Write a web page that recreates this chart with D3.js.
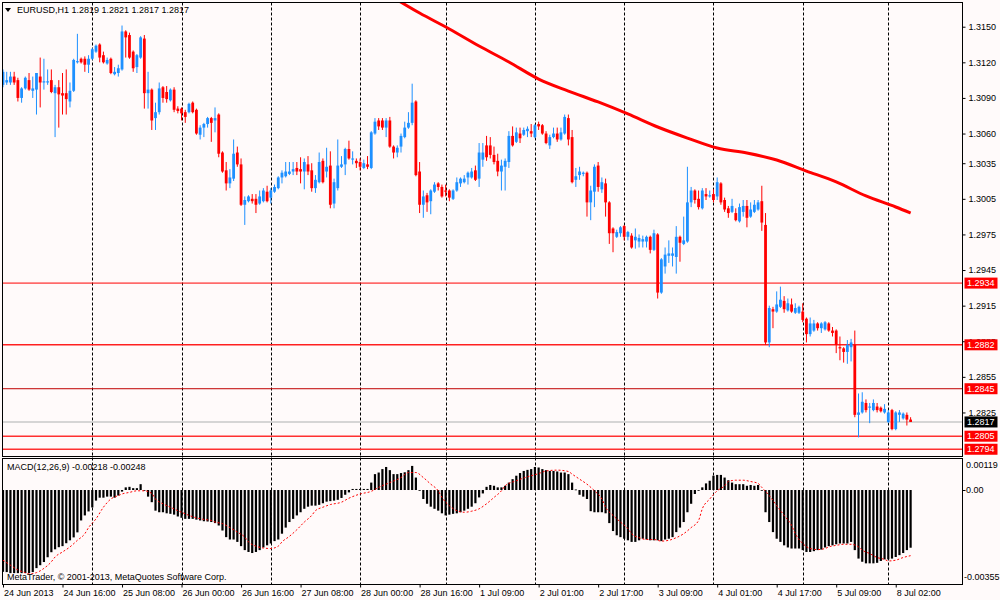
<!DOCTYPE html>
<html><head><meta charset="utf-8">
<script src="https://cdn.jsdelivr.net/npm/d3@7/dist/d3.min.js"></script>
<style>
html,body{margin:0;padding:0;background:#fffafa;overflow:hidden;}
svg{display:block;}
text{font-family:"Liberation Sans",Arial,sans-serif;font-size:9px;fill:#000;}
</style></head><body>
<svg id="c" width="1000" height="600"></svg>
<script>
// ---------- DATA ----------
const symbolTitle = "EURUSD,H1  1.2819 1.2821 1.2817 1.2817";
const macdTitle = "MACD(12,26,9) -0.00218 -0.00248";
const copyright = "MetaTrader, \u00a9 2001-2013, MetaQuotes Software Corp.";

const opens = [1.3101,1.3103,1.3103,1.3108,1.3105,1.3090,1.3098,1.3105,1.3096,1.3097,
1.3108,1.3103,1.3103,1.3105,1.3094,1.3099,1.3094,1.3094,1.3087,1.3096,
1.3120,1.3123,1.3123,1.3118,1.3123,1.3129,1.3135,1.3126,1.3119,1.3123,
1.3110,1.3111,1.3114,1.3146,1.3143,1.3129,1.3116,1.3124,1.3140,1.3094,
1.3097,1.3073,1.3078,1.3099,1.3095,1.3088,1.3097,1.3081,1.3081,1.3078,
1.3078,1.3086,1.3080,1.3059,1.3065,1.3068,1.3073,1.3071,1.3076,1.3044,
1.3029,1.3018,1.3022,1.3044,1.3034,1.3000,1.3003,1.3005,1.3005,1.3001,
1.3003,1.3011,1.3006,1.3011,1.3014,1.3023,1.3024,1.3026,1.3028,1.3031,
1.3030,1.3028,1.3034,1.3029,1.3014,1.3019,1.3037,1.3028,1.3033,1.3001,
1.3014,1.3032,1.3034,1.3047,1.3038,1.3037,1.3036,1.3031,1.3034,1.3031,
1.3060,1.3071,1.3071,1.3065,1.3071,1.3049,1.3044,1.3049,1.3057,1.3065,
1.3069,1.3087,1.3028,1.3000,1.3008,1.3003,1.3011,1.3018,1.3015,1.3012,
1.3012,1.3005,1.3012,1.3018,1.3019,1.3023,1.3023,1.3029,1.3022,1.3038,
1.3050,1.3050,1.3042,1.3037,1.3028,1.3032,1.3036,1.3058,1.3053,1.3060,
1.3059,1.3062,1.3062,1.3057,1.3068,1.3067,1.3060,1.3050,1.3057,1.3060,
1.3055,1.3060,1.3073,1.3057,1.3021,1.3025,1.3026,1.3027,1.3002,1.3011,
1.3033,1.3013,1.3018,1.3002,1.2980,1.2973,1.2976,1.2982,1.2973,1.2974,
1.2970,1.2969,1.2969,1.2969,1.2973,1.2962,1.2975,1.2926,1.2948,1.2957,
1.2957,1.2956,1.2973,1.2967,1.2969,1.3002,1.3012,1.3005,1.2997,1.3009,
1.3007,1.3009,1.3007,1.3018,1.3004,1.2997,1.2994,1.2993,1.2986,1.2994,
1.2999,1.2990,1.2994,1.2996,1.3003,1.2983,1.2884,1.2912,1.2910,1.2914,
1.2919,1.2911,1.2916,1.2909,1.2909,1.2910,1.2904,1.2891,1.2894,1.2900,
1.2896,1.2895,1.2900,1.2894,1.2894,1.2880,1.2879,1.2876,1.2880,1.2882,
1.2823,1.2825,1.2833,1.2829,1.2827,1.2830,1.2829,1.2825,1.2817,1.2827,
1.2811,1.2823,1.2820,1.2823,1.2819];
const highs = [1.3114,1.3112,1.3112,1.3112,1.3107,1.3099,1.3108,1.3111,1.3108,1.3111,
1.3124,1.3123,1.3114,1.3114,1.3101,1.3105,1.3111,1.3114,1.3103,1.3123,
1.3144,1.3124,1.3125,1.3126,1.3132,1.3135,1.3136,1.3129,1.3124,1.3124,
1.3116,1.3118,1.3151,1.3147,1.3145,1.3130,1.3127,1.3142,1.3143,1.3112,
1.3098,1.3086,1.3103,1.3100,1.3100,1.3098,1.3099,1.3083,1.3082,1.3080,
1.3086,1.3087,1.3081,1.3067,1.3069,1.3074,1.3074,1.3082,1.3077,1.3045,
1.3036,1.3030,1.3055,1.3049,1.3039,1.3007,1.3008,1.3009,1.3009,1.3012,
1.3014,1.3016,1.3014,1.3017,1.3024,1.3029,1.3036,1.3036,1.3036,1.3036,
1.3040,1.3039,1.3041,1.3035,1.3025,1.3044,1.3039,1.3048,1.3045,1.3022,
1.3055,1.3041,1.3048,1.3054,1.3045,1.3039,1.3039,1.3038,1.3041,1.3062,
1.3073,1.3073,1.3073,1.3073,1.3074,1.3050,1.3050,1.3060,1.3070,1.3078,
1.3102,1.3088,1.3036,1.3012,1.3010,1.3013,1.3019,1.3019,1.3017,1.3017,
1.3013,1.3013,1.3023,1.3023,1.3025,1.3028,1.3031,1.3033,1.3052,1.3052,
1.3058,1.3057,1.3049,1.3043,1.3038,1.3039,1.3062,1.3066,1.3065,1.3065,
1.3065,1.3066,1.3068,1.3068,1.3070,1.3068,1.3062,1.3059,1.3065,1.3065,
1.3065,1.3076,1.3076,1.3063,1.3031,1.3032,1.3028,1.3028,1.3016,1.3034,
1.3036,1.3023,1.3022,1.3003,1.2981,1.2979,1.2982,1.2983,1.2978,1.2976,
1.2980,1.2975,1.2974,1.2974,1.2974,1.2979,1.2976,1.2955,1.2964,1.2970,
1.2964,1.2982,1.2974,1.2990,1.3032,1.3015,1.3013,1.3012,1.3014,1.3014,
1.3012,1.3013,1.3023,1.3019,1.3006,1.2999,1.3005,1.2997,1.3001,1.3004,
1.3004,1.3002,1.3004,1.3004,1.3016,1.2993,1.2915,1.2914,1.2927,1.2931,
1.2923,1.2921,1.2921,1.2917,1.2915,1.2917,1.2905,1.2905,1.2903,1.2901,
1.2901,1.2902,1.2901,1.2897,1.2895,1.2889,1.2880,1.2886,1.2887,1.2894,
1.2841,1.2842,1.2836,1.2833,1.2836,1.2833,1.2830,1.2832,1.2827,1.2828,
1.2826,1.2827,1.2825,1.2825,1.2821];
const lows = [1.3099,1.3101,1.3101,1.3101,1.3087,1.3086,1.3097,1.3096,1.3090,1.3076,
1.3082,1.3097,1.3101,1.3094,1.3057,1.3065,1.3076,1.3076,1.3082,1.3095,
1.3119,1.3119,1.3112,1.3111,1.3122,1.3128,1.3120,1.3119,1.3118,1.3110,
1.3109,1.3108,1.3113,1.3124,1.3123,1.3112,1.3111,1.3123,1.3081,1.3081,
1.3063,1.3063,1.3076,1.3086,1.3086,1.3087,1.3078,1.3077,1.3071,1.3069,
1.3077,1.3077,1.3059,1.3055,1.3057,1.3065,1.3053,1.3061,1.3040,1.3027,
1.3012,1.3014,1.3020,1.3032,1.2999,1.2983,1.3002,1.3001,1.2993,1.3000,
1.3002,1.3002,1.3001,1.3010,1.3013,1.3018,1.3023,1.3025,1.3025,1.3025,
1.3018,1.3013,1.3025,1.3011,1.3010,1.3018,1.3018,1.3023,1.2997,1.2997,
1.3012,1.3031,1.3025,1.3038,1.3034,1.3031,1.3029,1.3030,1.3030,1.3030,
1.3059,1.3063,1.3063,1.3057,1.3048,1.3039,1.3040,1.3044,1.3056,1.3064,
1.3067,1.3024,1.2993,1.2989,1.2994,1.2992,1.3010,1.3012,1.3006,1.3007,
1.3003,1.3004,1.3011,1.3015,1.3018,1.3017,1.3022,1.3020,1.3015,1.3032,
1.3037,1.3039,1.3034,1.3024,1.3012,1.3012,1.3031,1.3049,1.3052,1.3052,
1.3058,1.3057,1.3057,1.3056,1.3063,1.3059,1.3051,1.3047,1.3056,1.3053,
1.3054,1.3059,1.3050,1.3018,1.3015,1.3021,1.3024,1.2990,1.2987,1.2998,
1.3011,1.3010,1.2990,1.2967,1.2960,1.2972,1.2973,1.2970,1.2970,1.2963,
1.2963,1.2964,1.2964,1.2964,1.2959,1.2961,1.2921,1.2925,1.2942,1.2951,
1.2948,1.2942,1.2952,1.2966,1.2968,1.2998,1.3001,1.2996,1.2996,1.3004,
1.3006,1.3002,1.3004,1.3000,1.2994,1.2989,1.2993,1.2986,1.2985,1.2990,
1.2981,1.2989,1.2993,1.2995,1.2978,1.2882,1.2880,1.2896,1.2909,1.2913,
1.2909,1.2910,1.2909,1.2908,1.2908,1.2901,1.2884,1.2889,1.2893,1.2894,
1.2892,1.2894,1.2893,1.2889,1.2875,1.2869,1.2867,1.2866,1.2868,1.2821,
1.2804,1.2824,1.2825,1.2816,1.2826,1.2825,1.2825,1.2824,1.2816,1.2810,
1.2810,1.2817,1.2819,1.2814,1.2817];
const closes = [1.3112,1.3105,1.3108,1.3103,1.3090,1.3098,1.3107,1.3097,1.3098,1.3111,
1.3103,1.3104,1.3104,1.3095,1.3099,1.3093,1.3092,1.3089,1.3096,1.3122,
1.3121,1.3120,1.3118,1.3123,1.3131,1.3134,1.3124,1.3120,1.3122,1.3111,
1.3112,1.3115,1.3146,1.3141,1.3124,1.3115,1.3126,1.3141,1.3094,1.3097,
1.3071,1.3078,1.3098,1.3090,1.3089,1.3097,1.3080,1.3079,1.3077,1.3074,
1.3085,1.3078,1.3060,1.3065,1.3068,1.3073,1.3069,1.3073,1.3043,1.3028,
1.3018,1.3023,1.3043,1.3034,1.3000,1.3004,1.3007,1.3003,1.3000,1.3007,
1.3012,1.3003,1.3012,1.3015,1.3023,1.3027,1.3028,1.3028,1.3030,1.3028,
1.3028,1.3036,1.3028,1.3014,1.3021,1.3036,1.3019,1.3032,1.3000,1.3019,
1.3033,1.3034,1.3047,1.3039,1.3039,1.3035,1.3032,1.3035,1.3032,1.3061,
1.3070,1.3066,1.3065,1.3071,1.3049,1.3044,1.3048,1.3058,1.3065,1.3069,
1.3086,1.3025,1.3000,1.3007,1.3002,1.3012,1.3017,1.3015,1.3007,1.3011,
1.3006,1.3012,1.3019,1.3022,1.3022,1.3027,1.3028,1.3021,1.3044,1.3044,
1.3040,1.3042,1.3036,1.3028,1.3033,1.3037,1.3058,1.3050,1.3061,1.3056,
1.3063,1.3064,1.3060,1.3067,1.3066,1.3060,1.3052,1.3057,1.3060,1.3055,
1.3061,1.3074,1.3055,1.3019,1.3024,1.3028,1.3027,1.3002,1.3012,1.3032,
1.3015,1.3019,1.3002,1.2976,1.2976,1.2977,1.2981,1.2973,1.2977,1.2964,
1.2973,1.2972,1.2971,1.2973,1.2962,1.2976,1.2926,1.2954,1.2958,1.2959,
1.2959,1.2973,1.2968,1.2970,1.3002,1.3012,1.3004,1.2998,1.3012,1.3007,
1.3008,1.3004,1.3019,1.3002,1.2996,1.2993,1.2999,1.2987,1.2998,1.2999,
1.2989,1.2996,1.3000,1.3002,1.2985,1.2884,1.2913,1.2910,1.2916,1.2920,
1.2912,1.2917,1.2910,1.2913,1.2914,1.2903,1.2891,1.2900,1.2900,1.2896,
1.2900,1.2901,1.2894,1.2892,1.2882,1.2879,1.2876,1.2882,1.2884,1.2823,
1.2825,1.2834,1.2827,1.2830,1.2833,1.2827,1.2826,1.2828,1.2825,1.2811,
1.2825,1.2825,1.2824,1.2819,1.2817];

// moving average (red) read at sample bars
const maIdx = [106,112,120,128,136,144,152,160,168,176,184,192,200,208,216,224,232,240,244];
const maValues = [1.31725,1.31615,1.31481,1.31337,1.31203,1.31059,1.30958,1.30866,1.30765,1.30655,1.30562,1.30478,1.30436,1.30377,1.30284,1.30192,1.30074,1.29981,1.29930];

// MACD main (histogram), one per bar
const macdValues = [-0.00309,-0.00310,-0.00314,-0.00314,-0.00314,-0.00314,-0.00314,-0.00314,-0.00310,-0.00295,
-0.00284,-0.00272,-0.00254,-0.00235,-0.00224,-0.00216,-0.00212,-0.00201,-0.00190,-0.00179,
-0.00160,-0.00115,-0.00096,-0.00081,-0.00066,-0.00040,-0.00029,-0.00029,-0.00025,-0.00025,
-0.00029,-0.00021,-0.00006,0.00010,0.00012,0.00007,0.00007,0.00022,-0.00003,-0.00025,
-0.00046,-0.00078,-0.00084,-0.00084,-0.00088,-0.00090,-0.00093,-0.00100,-0.00105,-0.00109,
-0.00109,-0.00109,-0.00112,-0.00115,-0.00118,-0.00119,-0.00121,-0.00125,-0.00134,-0.00153,
-0.00178,-0.00187,-0.00187,-0.00196,-0.00212,-0.00227,-0.00234,-0.00238,-0.00234,-0.00227,
-0.00217,-0.00209,-0.00202,-0.00193,-0.00187,-0.00165,-0.00142,-0.00121,-0.00109,-0.00096,
-0.00084,-0.00071,-0.00063,-0.00059,-0.00059,-0.00056,-0.00050,-0.00044,-0.00042,-0.00040,
-0.00037,-0.00030,-0.00018,-0.00009,0.00004,0.00004,0.00004,0.00004,0.00004,0.00028,
0.00060,0.00066,0.00079,0.00087,0.00075,0.00060,0.00060,0.00064,0.00067,0.00075,
0.00091,0.00047,-0.00003,-0.00034,-0.00052,-0.00063,-0.00071,-0.00078,-0.00088,-0.00096,
-0.00093,-0.00090,-0.00088,-0.00084,-0.00078,-0.00071,-0.00063,-0.00050,-0.00028,-0.00013,
0.00012,0.00019,0.00016,0.00010,0.00010,0.00016,0.00028,0.00041,0.00054,0.00064,
0.00072,0.00076,0.00079,0.00087,0.00085,0.00079,0.00075,0.00072,0.00072,0.00070,
0.00066,0.00066,0.00060,0.00028,0.00002,-0.00018,-0.00025,-0.00034,-0.00080,-0.00084,
-0.00084,-0.00084,-0.00088,-0.00125,-0.00155,-0.00171,-0.00178,-0.00184,-0.00190,-0.00196,
-0.00196,-0.00190,-0.00184,-0.00187,-0.00190,-0.00190,-0.00190,-0.00193,-0.00187,-0.00184,
-0.00178,-0.00159,-0.00142,-0.00121,-0.00084,-0.00052,-0.00015,-0.00003,0.00010,0.00025,
0.00035,0.00054,0.00057,0.00057,0.00047,0.00037,0.00028,0.00022,0.00022,0.00022,
0.00016,0.00019,0.00016,0.00019,-0.00003,-0.00084,-0.00121,-0.00159,-0.00184,-0.00196,
-0.00209,-0.00217,-0.00221,-0.00221,-0.00221,-0.00227,-0.00234,-0.00234,-0.00231,-0.00227,
-0.00225,-0.00217,-0.00212,-0.00209,-0.00205,-0.00202,-0.00202,-0.00202,-0.00196,-0.00227,
-0.00259,-0.00271,-0.00277,-0.00277,-0.00277,-0.00275,-0.00268,-0.00262,-0.00262,-0.00259,
-0.00253,-0.00246,-0.00238,-0.00227,-0.00218];

// MACD signal line read at sample bars
const signalIdx = [0,2,4,6,7,9,11,13,14,16,18,20,22,23,25,27,29,31,32,34,36,38,40,41,43,45,47,49,50,52,
54,56,57,59,61,63,65,66,68,70,72,74,75,77,79,81,83,84,86,88,91,93,96,99,101,104,107,109,111,113,
115,117,118,120,122,124,126,128,130,132,134,135,138,141,144,146,149,152,153,155,157,159,161,162,164,166,168,169,171,173,
175,177,179,181,183,185,187,188,190,192,194,195,197,199,201,203,204,206,208,210,212,213,215,217,219,221,222,224,226,228,
230,231,233,235,237,238,240,242,244];
const signalValues = [-0.00265,-0.00284,-0.00302,-0.00312,-0.00317,-0.00312,-0.00296,-0.00271,-0.00253,-0.00234,
-0.00215,-0.00190,-0.00165,-0.00142,-0.00109,-0.00065,-0.00034,-0.00021,-0.00015,-0.00009,
-0.00003,-0.00003,-0.00013,-0.00034,-0.00052,-0.00065,-0.00078,-0.00090,-0.00096,-0.00105,
-0.00111,-0.00115,-0.00121,-0.00127,-0.00142,-0.00159,-0.00178,-0.00196,-0.00212,-0.00219,
-0.00221,-0.00212,-0.00196,-0.00175,-0.00150,-0.00121,-0.00096,-0.00078,-0.00065,-0.00055,
-0.00046,-0.00031,-0.00015,-0.00005,0.00010,0.00028,0.00047,0.00066,0.00066,0.00047,
0.00022,-0.00003,-0.00028,-0.00059,-0.00078,-0.00084,-0.00080,-0.00071,-0.00052,-0.00028,
-0.00003,0.00016,0.00035,0.00050,0.00062,0.00072,0.00075,0.00070,0.00060,0.00041,
0.00022,-0.00003,-0.00034,-0.00065,-0.00096,-0.00121,-0.00146,-0.00165,-0.00180,-0.00187,
-0.00187,-0.00193,-0.00190,-0.00180,-0.00165,-0.00142,-0.00115,-0.00071,-0.00034,-0.00003,
0.00016,0.00032,0.00037,0.00037,0.00032,0.00025,0.00010,-0.00021,-0.00059,-0.00096,
-0.00134,-0.00165,-0.00202,-0.00221,-0.00225,-0.00221,-0.00215,-0.00209,-0.00205,-0.00205,
-0.00215,-0.00227,-0.00240,-0.00255,-0.00262,-0.00268,-0.00265,-0.00255,-0.00248];

const priceTicks = [1.3150,1.3120,1.3090,1.3060,1.3035,1.3005,1.2975,1.2945,1.2915,1.2885,1.2855,1.2825];
const levelPrices = [1.2934,1.2882,1.2845,1.2805,1.2794];
const bidPrice = 1.2817;
const macdTicks = [0.00119,0,-0.00355];
const macdTickLabels = ["0.00119","0.00","-0.00355"];
const separatorIdx = [24,48,72,96,119,143,167,191,215,238];
const timeLabelIdx = [0,16,32,48,64,80,96,112,128,144,160,176,192,208,224,240];
const timeLabels = ["24 Jun 2013","24 Jun 16:00","25 Jun 08:00","26 Jun 00:00","26 Jun 16:00","27 Jun 08:00",
"28 Jun 00:00","28 Jun 16:00","1 Jul 09:00","2 Jul 01:00","2 Jul 17:00","3 Jul 09:00","4 Jul 01:00",
"4 Jul 17:00","5 Jul 09:00","8 Jul 02:00"];

// ---------- STYLE / LAYOUT ----------
const BG = "#fffafa", BULL = "#1e90ff", BEAR = "#ff0000";
const levelStyles = [
  {c:"#ff0000", w:1}, {c:"#ff2020", w:1.6}, {c:"#c00000", w:1}, {c:"#ff3030", w:1.6}, {c:"#ff3030", w:1.6}
];
const PL = 2.5, PR = 962.5, PT = 2.5, PB = 456.5, MT = 458.5, MB = 584.5;

const svg = d3.select("#c");
svg.append("rect").attr("width",1000).attr("height",600).attr("fill",BG);

const x = d3.scaleLinear().domain([0,244]).range([3, 910.6]);
const y = d3.scaleLinear().domain([1.27879,1.31704]).range([PB, PT]);
const ym = d3.scaleLinear().domain([-0.00355,0.00119]).range([MB-0.5, MT]);

const defs = svg.append("defs");
defs.append("clipPath").attr("id","cpMain").append("rect").attr("x",PL).attr("y",PT).attr("width",PR-PL).attr("height",PB-PT);
defs.append("clipPath").attr("id","cpMacd").append("rect").attr("x",PL).attr("y",MT).attr("width",PR-PL).attr("height",MB-MT);

// separators
const sepG = svg.append("g");
sepG.selectAll("line").data(separatorIdx).join("line")
  .attr("x1",d=>Math.round(x(d))+0.5).attr("x2",d=>Math.round(x(d))+0.5)
  .attr("y1",PT).attr("y2",MB)
  .attr("stroke","#000").attr("stroke-width",1).attr("stroke-dasharray","3,2");

const main = svg.append("g").attr("clip-path","url(#cpMain)");

// level lines
main.selectAll("line.lvl").data(levelPrices).join("line").attr("class","lvl")
  .attr("x1",PL).attr("x2",PR)
  .attr("y1",d=>y(d)).attr("y2",d=>y(d))
  .attr("stroke",(d,i)=>levelStyles[i].c).attr("stroke-width",(d,i)=>levelStyles[i].w);
// bid line
main.append("line").attr("x1",PL).attr("x2",PR).attr("y1",y(bidPrice)).attr("y2",y(bidPrice))
  .attr("stroke","#c8c8c8").attr("stroke-width",1.6);

// candles
const bars = d3.range(opens.length);
const cg = main.append("g");
cg.selectAll("line").data(bars).join("line")
  .attr("x1",i=>x(i)).attr("x2",i=>x(i))
  .attr("y1",i=>y(highs[i])).attr("y2",i=>y(lows[i]))
  .attr("stroke",i=>closes[i]>=opens[i]?BULL:BEAR).attr("stroke-width",1);
cg.selectAll("rect").data(bars).join("rect")
  .attr("x",i=>x(i)-1.4).attr("width",2.8)
  .attr("y",i=>y(Math.max(opens[i],closes[i])))
  .attr("height",i=>Math.max(1,Math.abs(y(opens[i])-y(closes[i]))))
  .attr("fill",i=>closes[i]>=opens[i]?BULL:BEAR);

// moving average
const maLine = d3.line().x(d=>x(d[0])).y(d=>y(d[1])).curve(d3.curveMonotoneX);
main.append("path").datum(maIdx.map((d,i)=>[d,maValues[i]]))
  .attr("d",maLine).attr("fill","none").attr("stroke","#ff0000").attr("stroke-width",3);

// MACD
const mg = svg.append("g").attr("clip-path","url(#cpMacd)");
mg.selectAll("rect").data(bars).join("rect")
  .attr("x",i=>x(i)-1.1).attr("width",2.2)
  .attr("y",i=>Math.min(ym(0),ym(macdValues[i])))
  .attr("height",i=>Math.max(0.8,Math.abs(ym(macdValues[i])-ym(0))))
  .attr("fill","#000");
const sigLine = d3.line().x(d=>x(d[0])).y(d=>ym(d[1])).curve(d3.curveMonotoneX);
mg.append("path").datum(signalIdx.map((d,i)=>[d,signalValues[i]]))
  .attr("d",sigLine).attr("fill","none").attr("stroke","#ff0000").attr("stroke-width",1).attr("stroke-dasharray","2,2");

// frames
const fr = svg.append("g").attr("fill","none").attr("stroke","#000").attr("stroke-width",1);
fr.append("rect").attr("x",PL).attr("y",PT).attr("width",PR-PL).attr("height",PB-PT);
fr.append("rect").attr("x",PL).attr("y",MT).attr("width",PR-PL).attr("height",MB-MT);

// price axis
const pAxis = svg.append("g").attr("transform",`translate(${PR},0)`)
  .call(d3.axisRight(y).tickValues(priceTicks).tickSize(3).tickPadding(3).tickFormat(d3.format(".4f")));
pAxis.select(".domain").remove();
pAxis.selectAll("text").style("font-family","'Liberation Sans',Arial,sans-serif").style("font-size","9px").attr("fill","#000");

// level labels
const lab = svg.append("g");
levelPrices.forEach((p,i)=>{
  lab.append("rect").attr("x",964.5).attr("y",y(p)-5.5).attr("width",33).attr("height",11).attr("fill","#ff0000");
  lab.append("text").attr("x",967).attr("y",y(p)).attr("dy","0.35em").attr("fill","#fff").style("fill","#fff").text(d3.format(".4f")(p));
});
lab.append("rect").attr("x",964.5).attr("y",y(bidPrice)-5.5).attr("width",33).attr("height",11).attr("fill","#000");
lab.append("text").attr("x",967).attr("y",y(bidPrice)).attr("dy","0.35em").style("fill","#fff").text(d3.format(".4f")(bidPrice));

// macd axis
const mAxis = svg.append("g").attr("transform",`translate(${PR},0)`)
  .call(d3.axisRight(ym).tickValues([0]).tickSize(3).tickFormat(()=>""));
mAxis.select(".domain").remove();
const mLab = svg.append("g");
mLab.append("text").attr("x",966).attr("y",465).attr("dy","0.35em").text(macdTickLabels[0]);
mLab.append("text").attr("x",966).attr("y",ym(macdTicks[1])).attr("dy","0.35em").text(macdTickLabels[1]);
mLab.append("text").attr("x",964).attr("y",577).attr("dy","0.35em").text(macdTickLabels[2]);

// time axis
const tAxis = svg.append("g").attr("transform",`translate(0,${MB})`)
  .call(d3.axisBottom(x).tickValues(timeLabelIdx).tickSize(3).tickPadding(2).tickFormat((d,i)=>timeLabels[i]));
tAxis.select(".domain").remove();
tAxis.selectAll("text").attr("text-anchor","start").attr("dx","0").attr("x",0.5)
  .style("font-family","'Liberation Sans',Arial,sans-serif").style("font-size","9px").attr("fill","#000");

// titles
svg.append("path").attr("d","M5,8 L11,8 L8,12 Z").attr("fill","#000");
svg.append("text").attr("x",17).attr("y",13).text(symbolTitle);
svg.append("text").attr("x",7).attr("y",470).text(macdTitle);
svg.append("text").attr("x",7).attr("y",580).text(copyright);
</script>
</body></html>
